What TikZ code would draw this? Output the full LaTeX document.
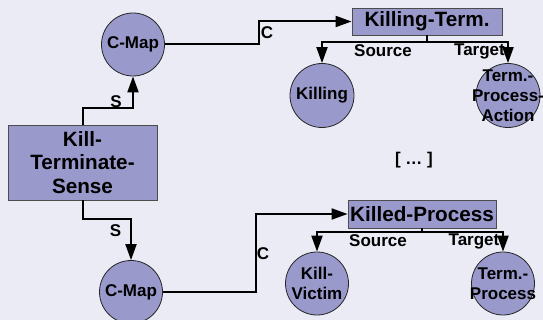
\documentclass[tikz,border=0pt]{standalone}
\usepackage{fontspec}
\setmainfont{Liberation Sans}
\usetikzlibrary{arrows.meta,positioning}
\definecolor{slidebg}{HTML}{EBEBF6}
\definecolor{nodefill}{HTML}{9999CC}
\tikzset{
  concept/.style={circle,draw=black!85,fill=nodefill,line width=0.8pt,minimum size=63pt,inner sep=0pt},
  ctext/.style={align=center,inner sep=0pt,font=\bfseries\fontsize{17}{20}\selectfont},
  frame/.style={rectangle,draw=black!70,fill=nodefill,line width=0.8pt,inner sep=1pt,align=center,font=\bfseries\fontsize{20.7}{23.5}\selectfont},
  link/.style={-{Triangle[length=16pt,width=11pt]},line width=2pt},
  rolelabel/.style={inner sep=0pt,font=\bfseries\fontsize{17}{20}\selectfont}
}

\begin{document}
\begin{tikzpicture}[x=1pt,y=-1pt]
  % slide background
  \useasboundingbox (0,0) rectangle (543,320);
  \clip (0,0) rectangle (543,320);
  \fill[slidebg] (0,0) rectangle (543,320);

  % frames
  \node[frame,minimum width=149pt,minimum height=75pt] (kts) at (82.5,162.5) {Kill-\\Terminate-\\Sense};
  \node[frame,minimum width=150pt,minimum height=27pt] (kt) at (427,21.5) {Killing-Term.};
  \node[frame,minimum width=148pt,minimum height=28pt] (kp) at (422,214) {Killed-Process};

  % concepts
  \node[concept,label={[ctext]center:C-Map}] (cmapa) at (133,44.5) {};
  \node[concept,label={[ctext]center:C-Map}] (cmapb) at (131,292) {};
  \node[concept,minimum size=64pt,label={[ctext]center:Killing}] (killing) at (322,95.5) {};
  \node[concept,minimum size=64pt,label={[ctext]center:Term.-\\Process-\\Action}] (tpa) at (508,95.5) {};
  \node[concept,label={[ctext]center:Kill-\\Victim}] (victim) at (317,283.5) {};
  \node[concept,label={[ctext]center:Term.-\\Process}] (tproc) at (503,283.5) {};

  % sense and c-map links
  \draw[link] (kts.north) -- ++(0,-17) -| (cmapa.south);
  \draw[link] (kts.south) -- ++(0,19) -| (cmapb.north);
  \draw[link] (cmapa.east) -- ++(94,0) |- (kt.west);
  \draw[link] (cmapb.east) -- ++(93,0) |- (kp.west);

  % roles
  \foreach \frm/\dst/\drop in {kt/killing/7,kt/tpa/7,kp/victim/4,kp/tproc/4}
    \draw[link] (\frm.south) -- ++(0,\drop) -| (\dst.north);

  % link labels
  \node[rolelabel] (sa) at (116,102) {S};
  \node[rolelabel] (sb) at (115.5,231) {S};
  \node[rolelabel] (ca) at (267,33) {C};
  \node[rolelabel] (cb) at (263,254) {C};
  \node[rolelabel] (srca) at (383,51) {Source};
  \node[rolelabel] (tgta) at (479.5,51) {Target};
  \node[rolelabel] (srcb) at (378,241) {Source};
  \node[rolelabel] (tgtb) at (474,241) {Target};

  % omitted frames
  \node[rolelabel] (more) at (414,160) {[ … ]};
\end{tikzpicture}
\end{document}
